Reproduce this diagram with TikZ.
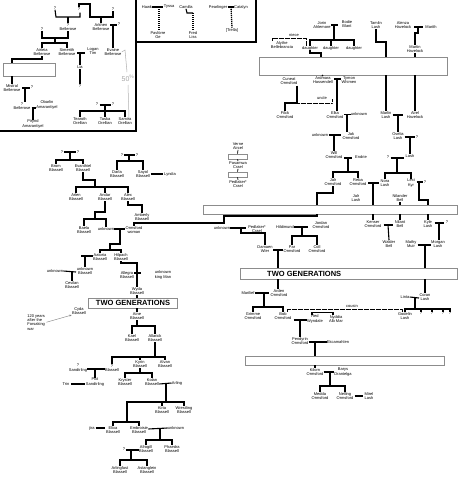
\documentclass[tikz,border=0pt]{standalone}
\usepackage{fontspec}
\setmainfont{Liberation Sans}
\usetikzlibrary{arrows.meta}
\newcommand\mypf{\fontsize{4}{4.3}\selectfont}
\newcommand\mygf{\fontsize{7.5}{7.5}\selectfont\bfseries}
\begin{document}
\begin{tikzpicture}[x=1pt,y=-1pt,
  p/.style={font=\mypf, align=center, inner sep=0.2pt},
  fl/.style={line width=1.1pt},
  tk/.style={line width=1.7pt},
  thn/.style={line width=0.7pt},
  dsh/.style={line width=1.3pt, dash pattern=on 1.2pt off 0.8pt},
  dt/.style={line width=0.9pt, dash pattern=on 0.6pt off 0.6pt},
  gbox/.style={draw=black!45, line width=0.8pt, fill=white},
  frm/.style={line width=1.1pt},
  gen/.style={font=\mygf, inner sep=0pt},
  note/.style={font=\mypf, align=left, inner sep=0.2pt}]
\useasboundingbox[fill=white] (0,0) rectangle (467,480);
% frames
\draw[frm] (136,0) -- (136,131) -- (0,131);
\draw[frm] (256,0) -- (256,42) -- (136,42);
% ---------- top-left box ----------
\node[p] (qa) at (55,8) {?};
\node[p] (qb) at (79,9) {?};
\node[p] (qc) at (113,9) {?};
\node[p] (qd) at (68,27) {?\\Bellerose};
\node[p] (arkhen) at (101,27) {Arkhen\\Bellerose};
\node[p] (qe) at (42,29) {?};
\node[p] (qf) at (119,24) {?};
\node[p] (airleia) at (42,52) {Airleia\\Bellerose};
\node[p] (simerith) at (67,52) {Simerith\\Bellerose};
\node[p] (logan) at (93,51) {Logan\\Tim};
\node[p] (evaine) at (113,52) {Evaine\\Bellerose};
\node[p] (lia) at (80,67) {Lia};
\node[p] (qg) at (80,86) {?};
\node[p] (mistral) at (12,88) {Mistral\\Bellerose};
\node[p] (qh) at (32,87) {?};
\node[p] (qi) at (22,106) {?\\Bellerose};
\node[p] (obarlin) at (47,105) {Obarlin\\Amarantiyel};
\node[p] (pirynd) at (33,124) {Pirynd\\Amarantiyel};
\node[p] (qj) at (97,104) {?};
\node[p] (qk) at (113,104) {?};
\node[p] (tearoth) at (80,121) {Tearoth\\Orellian};
\node[p] (taska) at (105,121) {Taska\\Orellian};
\node[p] (samira) at (125,121) {Samira\\Orellian};
\draw[fl] (qa.south) -- (56,17) -- (80,17) -- (80,12.5);
\draw[fl] (68,17) -- (qd.north);
\draw[fl] (qb.north) -- (79,4) -- (90,4) -- (90,17) -- (113,17) -- (qc.south);
\draw[fl] (101,17) -- (arkhen.north);
\draw[fl] (qe.south) -- (42,38) -- (68,38) -- (qd.south);
\draw[fl] (55,38) -- (55,43);
\draw[fl] (airleia.north) -- (42,43) -- (67,43) -- (simerith.north);
\draw[fl] (110,25) -- (116.5,25);
\draw[fl] (113,25) -- (evaine.north);
\draw[fl] (77,53) -- (85,53);
\draw[fl] (80,53) -- (lia.north);
\draw[fl] (lia.south) -- (qg.north);
\draw[fl] (airleia.south) -- (42,59) -- (12,59) -- (12,63);
\node[gbox, minimum width=52pt, minimum height=13pt, inner sep=0pt] (boxa) at (29,69.5) {};
\draw[fl] (boxa.south -| 12,0) -- (mistral.north);
\draw[fl] (22,88) -- (29.5,88);
\draw[fl] (25,88) -- (25,101.7);
\draw[fl] (31.5,108) -- (36,108);
\draw[fl] (33,108) -- (pirynd.north);
\draw[fl] (99.5,105) -- (110.5,105);
\draw[fl] (105,105) -- (105,111);
\draw[fl] (tearoth.north) -- (80,111) -- (125,111) -- (samira.north);
\draw[fl] (105,111) -- (taska.north);
\draw[gray!60, line width=0.5pt] (evaine.east) -- (125,50) -- (127,72);
\draw[gray!60, line width=0.5pt] (128,85) -- (129,118);
\node[font=\fontsize{7}{7}\selectfont, text=gray!70, inner sep=0pt] (fifty) at (128,78.5) {50\textsuperscript{\%}};
% ---------- top-middle box ----------
\node[p] (hawk) at (147,7) {Hawk};
\node[p] (tyssa) at (169,7) {Tyssa};
\node[p] (pav) at (158,35) {Pavlorre\\Ge};
\node[p] (camilla) at (186,7) {Camilla};
\node[p] (fred) at (193,35) {Fred\\Liss};
\node[p] (pearl) at (218,7) {Pearlinger};
\node[p] (catalyn) at (241,7) {Catalyn};
\node[p] (trella) at (232,30) {[Trella]};
\draw[fl] (hawk.east) -- (tyssa.west);
\draw[dsh] (159,7) -- (159,31);
\draw[fl] (camilla.south) -- (187,13) -- (193,13);
\draw[dsh] (193,13) -- (fred.north);
\draw[fl] (pearl.east) -- (catalyn.west);
\draw[dsh] (231,7) -- (trella.north);
% ---------- top right ----------
\node[p] (jorin) at (322,25) {Jorin\\Ahlemore};
\node[p] (bodie) at (347,24) {Bodie\\Blant};
\draw[fl] (331,25) -- (338,25);
\draw[fl] (334,25) -- (334,40);
\node[p] (d1) at (310,48) {daughter};
\node[p] (d2) at (331,48) {daughter};
\node[p] (d3) at (354,48) {daughter};
\draw[fl] (d1.north) -- (310,40) -- (354,40) -- (d3.north);
\draw[fl] (331,40) -- (d2.north);
\node[p] (alythe) at (282,45) {Alythe\\Bellebrancia};
\draw[dt] (272,41) -- (272,38) -- (306,38) -- (306,45.5);
\node[p] (niece) at (294,35.5) {niece};
\node[p] (tamlin) at (376,25) {Tamlin\\Lash};
\node[p] (alenza) at (403,25) {Alenza\\Havelock};
\node[p] (marith) at (431,27) {Marith};
\node[p] (martin) at (415,49) {Martin\\Havelock};
\node[gbox, minimum width=188pt, minimum height=18pt, inner sep=0pt] (boxb) at (353,66) {};
\draw[fl] (d1.south) -- (310,53) -- (321,53) -- (321,57);
\draw[fl] (tamlin.south) -- (376,42) -- (386,42) -- (386,57);
\draw[fl] (414,27) -- (423,27);
\draw[fl] (418,27) -- (418,33) -- (415,33) -- (martin.north);
\draw[fl] (martin.south) -- (415,57);
\node[p] (cuneat) at (289,81) {Cuneat\\Ormsford};
\node[p] (ardmara) at (323,80) {Ardmara\\Hassendell};
\node[p] (tymon) at (349,80) {Tymon\\Whimen};
\node[p] (filck) at (285,115) {Filck\\Ormsford};
\node[p] (elka) at (335,115) {Elka\\Ormsford};
\node[p] (unkA) at (359,114) {unknown};
\node[p] (marlin) at (386,115) {Marlin\\Lash};
\node[p] (airel) at (415,115) {Airel\\Havelock};
\draw[fl] (322,75) -- (ardmara.north);
\draw[fl] (334,79) -- (341,79);
\draw[fl] (337,79) -- (337,111);
\draw[fl] (297,85.5) -- (297,103) -- (285,103) -- (filck.north);
\draw[dt] (297,103) -- (332,103) -- (332,99);
\node[p] (uncle) at (322,98.5) {uncle};
\draw[fl] (344,114.5) -- (351,114.5);
\draw[fl] (347,114.5) -- (347,132);
\draw[fl] (386,75) -- (marlin.north);
\draw[fl] (415,75) -- (airel.north);
\draw[fl] (392.5,115) -- (403,115);
\draw[fl] (398,115) -- (398,132);
\node[p] (unkB) at (320,135) {unknown};
\node[p] (jak) at (351,136) {Jak\\Ormsford};
\node[p] (ovelia) at (398,136) {Ovelia\\Lash};
\node[p] (qo) at (417,137) {?};
\node[p] (will) at (334,155) {Will\\Ormsford};
\node[p] (endrie) at (361,157) {Endrie};
\node[p] (lash1) at (410,156) {Lash};
\node[p] (qp) at (388,157) {?};
\draw[fl] (328.5,135) -- (341,135);
\draw[fl] (334,135) -- (will.north);
\draw[fl] (404.5,137) -- (414.5,137);
\draw[fl] (410,137) -- (lash1.north);
\draw[fl] (344,158) -- (352,158);
\draw[fl] (348,158) -- (348,172);
\node[p] (jalr) at (333,182) {Jalr\\Ormsford};
\node[p] (reba) at (358,182) {Reba\\Ormsford};
\draw[fl] (jalr.north) -- (333,172) -- (358,172) -- (reba.north);
\draw[fl] (390.5,158) -- (404,158);
\draw[fl] (397,158) -- (397,173);
\node[p] (nora) at (385,183) {Nora\\Lash};
\node[p] (lexi) at (411,183) {Lexi\\Kyr};
\node[p] (qq) at (425,182) {?};
\draw[fl] (nora.north) -- (385,173) -- (411,173) -- (lexi.north);
\draw[fl] (368,183) -- (378.5,183);
\draw[fl] (373,183) -- (373,205);
\draw[fl] (416.5,182) -- (422.5,182);
\draw[fl] (419,182) -- (419,200) -- (428,200) -- (428,205);
\node[p] (jalrlash) at (356,198) {Jalr\\Lash};
\node[p] (nilander) at (400,198) {Nilander\\Bell};
\draw[fl] (nilander.south) -- (400,205);
\draw[fl] (jalr.south) -- (333,193) -- (317,193) -- (317,205);
\node[gbox, minimum width=254pt, minimum height=9pt, inner sep=0pt] (boxc) at (330,209.5) {};
\node[p] (kenser) at (373,224) {Kenser\\Ormsford};
\node[p] (nilant) at (400,224) {Nilant\\Bell};
\node[p] (kyle) at (428,224) {Kyle\\Lash};
\node[p] (qr) at (447,222) {?};
\draw[fl] (373,214) -- (kenser.north);
\draw[fl] (400,214) -- (nilant.north);
\draw[fl] (428,214) -- (kyle.north);
\node[p] (walder) at (389,244) {Walder\\Bell};
\node[p] (mathy) at (411,244) {Mathy\\Muir};
\node[p] (morgan) at (438,244) {Morgan\\Lash};
\draw[fl] (383.5,225) -- (393,225);
\draw[fl] (388,225) -- (walder.north);
\draw[fl] (434.5,223) -- (443.5,223);
\draw[fl] (439,223) -- (439,239.8);
\draw[fl] (417.5,245) -- (430.5,245);
\draw[fl] (425,245) -- (425,268);
% thick line to Ormsford woman
\node[p] (ormwoman) at (134,230) {Ormsford\\woman};
\draw[tk] (317,214) -- (317,216) -- (224,216) -- (224,223) -- (134,223) -- (ormwoman.north);
% legend
\node[p] (verne) at (238,146) {Verne\\Aircel};
\node[gbox, minimum width=19pt, minimum height=5pt, inner sep=0pt] (lg1) at (237.5,156.5) {};
\node[p] (pasamwa) at (238,165) {Pasamwa\\Crael};
\node[gbox, minimum width=19pt, minimum height=5pt, inner sep=0pt] (lg2) at (237.5,174.5) {};
\node[p] (pedA) at (238,184) {Pedlaker*\\Crael};
\draw[thn] (verne.south) -- (lg1.north);
\draw[thn] (lg1.south) -- (pasamwa.north);
\draw[thn] (pasamwa.south) -- (lg2.north);
\draw[thn] (lg2.south) -- (pedA.north);
% middle
\node[p] (unkC) at (222,228) {unknown};
\node[p] (pedB) at (257,229) {Pedlaker*\\Crael};
\node[p] (hild) at (285,227) {Hildimund};
\node[p] (jordan) at (321,225) {Jordan\\Ormsford};
\node[p] (damaen) at (265,249) {Damaen\\Wler};
\node[p] (par) at (292,249) {Par\\Ormsford};
\node[p] (coll) at (317,249) {Coll\\Ormsford};
\draw[fl] (unkC.east) -- (246,228);
\draw[fl] (241,228) -- (241,233) -- (265,233) -- (damaen.north);
\draw[fl] (hild.east) -- (308,227);
\draw[fl] (302,227) -- (302,236);
\draw[fl] (par.north) -- (292,236) -- (317,236) -- (coll.north);
\draw[fl] (273,250) -- (282.5,250);
\draw[fl] (278,250) -- (278,268);
\node[gbox, minimum width=217pt, minimum height=11pt, inner sep=0pt] (boxd) at (348.5,273.5) {};
\node[gen, anchor=west] (tg1) at (267,273.8) {TWO GENERATIONS};
\node[p] (marilief) at (248,293) {Marilief};
\node[p] (arden) at (279,293) {Arden\\Ormsford};
\draw[fl] (278,279) -- (278,289);
\draw[fl] (marilief.east) -- (268.5,293);
\draw[fl] (264,293) -- (264,307);
\node[p] (grimme) at (253,316) {Grimme\\Ormsford};
\node[p] (bob) at (283,316) {Bob\\Ormsford};
\draw[fl] (grimme.north) -- (253,307) -- (283,307) -- (bob.north);
\draw[dt] (287,311.6) -- (287,309) -- (402,309) -- (402,311.6);
\node[p] (cousin) at (352,306) {cousin};
\node[p] (red) at (315,319) {Red\\Wyndale};
\node[p] (nyddia) at (336,319) {Nyddia\\Alb Mar};
\draw[fl] (312,314.5) -- (312,312.5) -- (333,312.5) -- (333,314.5);
\draw[fl] (293.5,320) -- (306.5,320);
\draw[fl] (300,320) -- (300,337);
\node[p] (pendyrin) at (300,341) {Pendyrin\\Ormsford};
\node[p] (ekcam) at (338,342) {Ekcamahlen};
\draw[fl] (pendyrin.east |- 0,342) -- (ekcam.west);
\draw[fl] (315,342) -- (315,356);
\node[gbox, minimum width=199pt, minimum height=9pt, inner sep=0pt] (boxe) at (344.5,360.5) {};
\node[p] (kilorn) at (315,372) {Kilorn\\Ormsford};
\node[p] (barys) at (343,372) {Barys\\Drantelga};
\draw[fl] (315,365) -- (kilorn.north);
\draw[fl] (kilorn.east |- 0,372) -- (barys.west);
\draw[fl] (330,372) -- (330,386);
\node[p] (medda) at (320,396) {Medda\\Ormsford};
\node[p] (nelling) at (345,396) {Nelling\\Ormsford};
\node[p] (mirel) at (369,396) {Mirel\\Lash};
\draw[fl] (medda.north) -- (320,386) -- (345,386) -- (nelling.north);
\draw[fl] ([xshift=1pt]nelling.east) -- ([xshift=-1pt]mirel.west);
% right bottom
\node[p] (linta) at (405,297) {Linta};
\node[p] (coran) at (425,297) {Coran\\Lash};
\draw[fl] (425,279) -- (coran.north);
\draw[fl] (linta.east) -- (419,298);
\draw[fl] (415,298) -- (415,309);
\node[p] (godelin) at (405,316) {Godelin\\Lash};
\node[p] (g1) at (421,313.5) {?};
\node[p] (g2) at (432,313.5) {?};
\node[p] (g3) at (443,313.5) {?};
\node[p] (g4) at (450,313.5) {?};
\draw[fl] (godelin.north) -- (405,309) -- (450,309) -- (g4.north);
\draw[fl] (421,309) -- (g1.north);
\draw[fl] (432,309) -- (g2.north);
\draw[fl] (443,309) -- (g3.north);
% ---------- Blassell ----------
\node[p] (qs1) at (62,152) {?};
\node[p] (qs2) at (78,152) {?};
\node[p] (brom) at (56,168) {Brom\\Blassell};
\node[p] (evan) at (83,168) {Evanthiel\\Blassell};
\draw[fl] (qs1.east) -- (qs2.west);
\draw[fl] (70,153) -- (70,160);
\draw[fl] (brom.north) -- (56,160) -- (83,160) -- (evan.north);
\node[p] (qs3) at (122,155) {?};
\node[p] (qs4) at (137,155) {?};
\node[p] (darla) at (117,174) {Darla\\Blassell};
\node[p] (sayol) at (143,174) {Sayol\\Blassell};
\node[p] (lyndia) at (170,174) {Lyndia};
\draw[fl] (qs3.east) -- (qs4.west);
\draw[fl] (129,156) -- (129,161);
\draw[fl] (darla.north) -- (117,161) -- (143,161) -- (sayol.north);
\draw[fl] ([xshift=0.5pt]sayol.east) -- ([xshift=-1pt]lyndia.west);
\node[p] (arlen) at (76,197) {Arlen\\Blassell};
\node[p] (andar) at (105,197) {Andar\\Blassell};
\node[p] (alex) at (128,197) {Alex\\Blassell};
\draw[fl] (evan.south) -- (83,180) -- (95,180) -- (95,187);
\draw[fl] (arlen.north) -- (76,187) -- (128,187) -- (alex.north);
\draw[fl] (105,187) -- (andar.north);
\node[p] (amberly) at (142,217) {Amberly\\Blassell};
\draw[fl] (alex.south) -- (128,205) -- (142,205) -- (amberly.north);
\node[p] (baela) at (84,230) {Baela\\Blassell};
\node[p] (unkD) at (106,229) {unknown};
\draw[fl] (andar.south) -- (105,212) -- (95,212) -- (95,219);
\draw[fl] (baela.north) -- (84,219) -- (106,219) -- (unkD.north);
\draw[fl] (unkD.east) -- (ormwoman.west |- 0,229);
\draw[fl] (120,229) -- (120,244) -- (110,244) -- (110,250);
\node[p] (aatoria) at (100,257) {Aatoria\\Blassell};
\node[p] (hilpach) at (121,257) {Hilpach\\Blassell};
\draw[fl] (aatoria.north) -- (100,250) -- (121,250) -- (hilpach.north);
\draw[fl] (81,256) -- (aatoria.west |- 0,256);
\node[p] (unkbl) at (85,271) {unknown\\Blassell};
\node[p] (unkE) at (55,271) {unknown};
\node[p] (cevilan) at (72,285) {Cevilan\\Blassell};
\draw[fl] (85,256) -- (unkbl.north);
\draw[fl] (unkE.east) -- (76,272);
\draw[fl] (72,272) -- (cevilan.north);
\node[p] (allegra) at (127,275) {Allegra\\Blassell};
\node[p] (unkking) at (163,275) {unknown\\king Man};
\node[p] (wyda) at (137,291) {Wyda\\Blassell};
\draw[fl] (hilpach.south) -- (121,263) -- (137,263) -- (wyda.north);
\draw[fl] (allegra.east |- 0,273) -- (141,273);
\node[gbox, minimum width=89pt, minimum height=10pt, inner sep=0pt] (boxf) at (132.5,303) {};
\node[gen] (tg2) at (133,303.3) {TWO GENERATIONS};
\draw[fl] (wyda.south) -- (137,298);
\node[p] (aine) at (137,316) {Aine\\Blassell};
\draw[fl] (137,308) -- (aine.north);
\node[p] (kael) at (132,338) {Kael\\Blassell};
\node[p] (allarick) at (155,338) {Allarick\\Blassell};
\draw[fl] (aine.south) -- (137,326);
\draw[fl] (kael.north) -- (132,326) -- (155,326) -- (allarick.north);
\node[p] (cyda) at (79,311) {Cyda\\Blassell};
\node[note, anchor=north west] (note) at (27,314) {120 years\\after the\\Forsaking\\war};
\draw[gray, line width=0.4pt, -{Stealth[length=2.5pt,width=2pt]}] ([xshift=1pt]note.east) -- (cyda.south west);
\node[p] (qblas) at (112,368) {?\\Blassell};
\node[p] (kyrin) at (140,364) {Kyrin\\Blassell};
\node[p] (alvan) at (165,364) {Alvan\\Blassell};
\draw[fl] (allarick.south) -- (155,357);
\draw[fl] (qblas.north) -- (112,357) -- (165,357) -- (alvan.north);
\draw[fl] (140,357) -- (kyrin.north);
\node[p] (qsand) at (78,368) {?\\Sandtrling};
\node[p] (pixt) at (95,382) {Pixt\\Sandtrling};
\node[p] (trin) at (66,384) {Trin};
\draw[fl] (qsand.east |- 0,369) -- (qblas.west |- 0,369);
\draw[fl] (95,369) -- (pixt.north);
\draw[fl] ([xshift=1pt]trin.east) -- ([xshift=-1pt]trin.east -| pixt.west);
\node[p] (kryster) at (125,382) {Kryster\\Blassell};
\node[p] (kolan) at (152,382) {Kolan\\Blassell};
\node[p] (arling) at (177,383) {Arling};
\draw[fl] (kyrin.south) -- (140,373);
\draw[fl] (kryster.north) -- (125,373) -- (152,373) -- (kolan.north);
\draw[fl] (kolan.east |- 0,384) -- (arling.west);
\draw[fl] (166,384) -- (166,402);
\node[p] (kiria) at (162,410) {Kiria\\Blassell};
\node[p] (wrest) at (184,410) {Wrestling\\Blassell};
\draw[fl] (127,422) -- (127,402) -- (184,402) -- (wrest.north);
\draw[fl] (162,402) -- (kiria.north);
\node[p] (elixa) at (113,430) {Elixa\\Blassell};
\node[p] (embro) at (139,430) {Embroisie\\Blassell};
\node[p] (jira) at (92,428) {jira};
\node[p] (unkF) at (176,428) {unknown};
\draw[fl] (elixa.north) -- (113,422) -- (139,422) -- (embro.north);
\draw[fl] ([xshift=0.5pt]jira.east) -- ([xshift=-1pt]jira.east -| elixa.west);
\draw[fl] (embro.east |- 0,429) -- (unkF.west);
\draw[fl] (160,429) -- (160,440);
\node[p] (afro) at (146,449) {Afrogill\\Blassell};
\node[p] (phae) at (172,449) {Phaedra\\Blassell};
\node[p] (qz) at (124,449) {?};
\draw[fl] (afro.north) -- (146,440) -- (172,440) -- (phae.north);
\draw[fl] (qz.east |- 0,450) -- (afro.west |- 0,450);
\draw[fl] (131,450) -- (131,460);
\node[p] (arlf) at (120,470) {Arlingfast\\Blassell};
\node[p] (astg) at (147,470) {Astanglein\\Blassell};
\draw[fl] (arlf.north) -- (120,460) -- (147,460) -- (astg.north);
\end{tikzpicture}
\end{document}
